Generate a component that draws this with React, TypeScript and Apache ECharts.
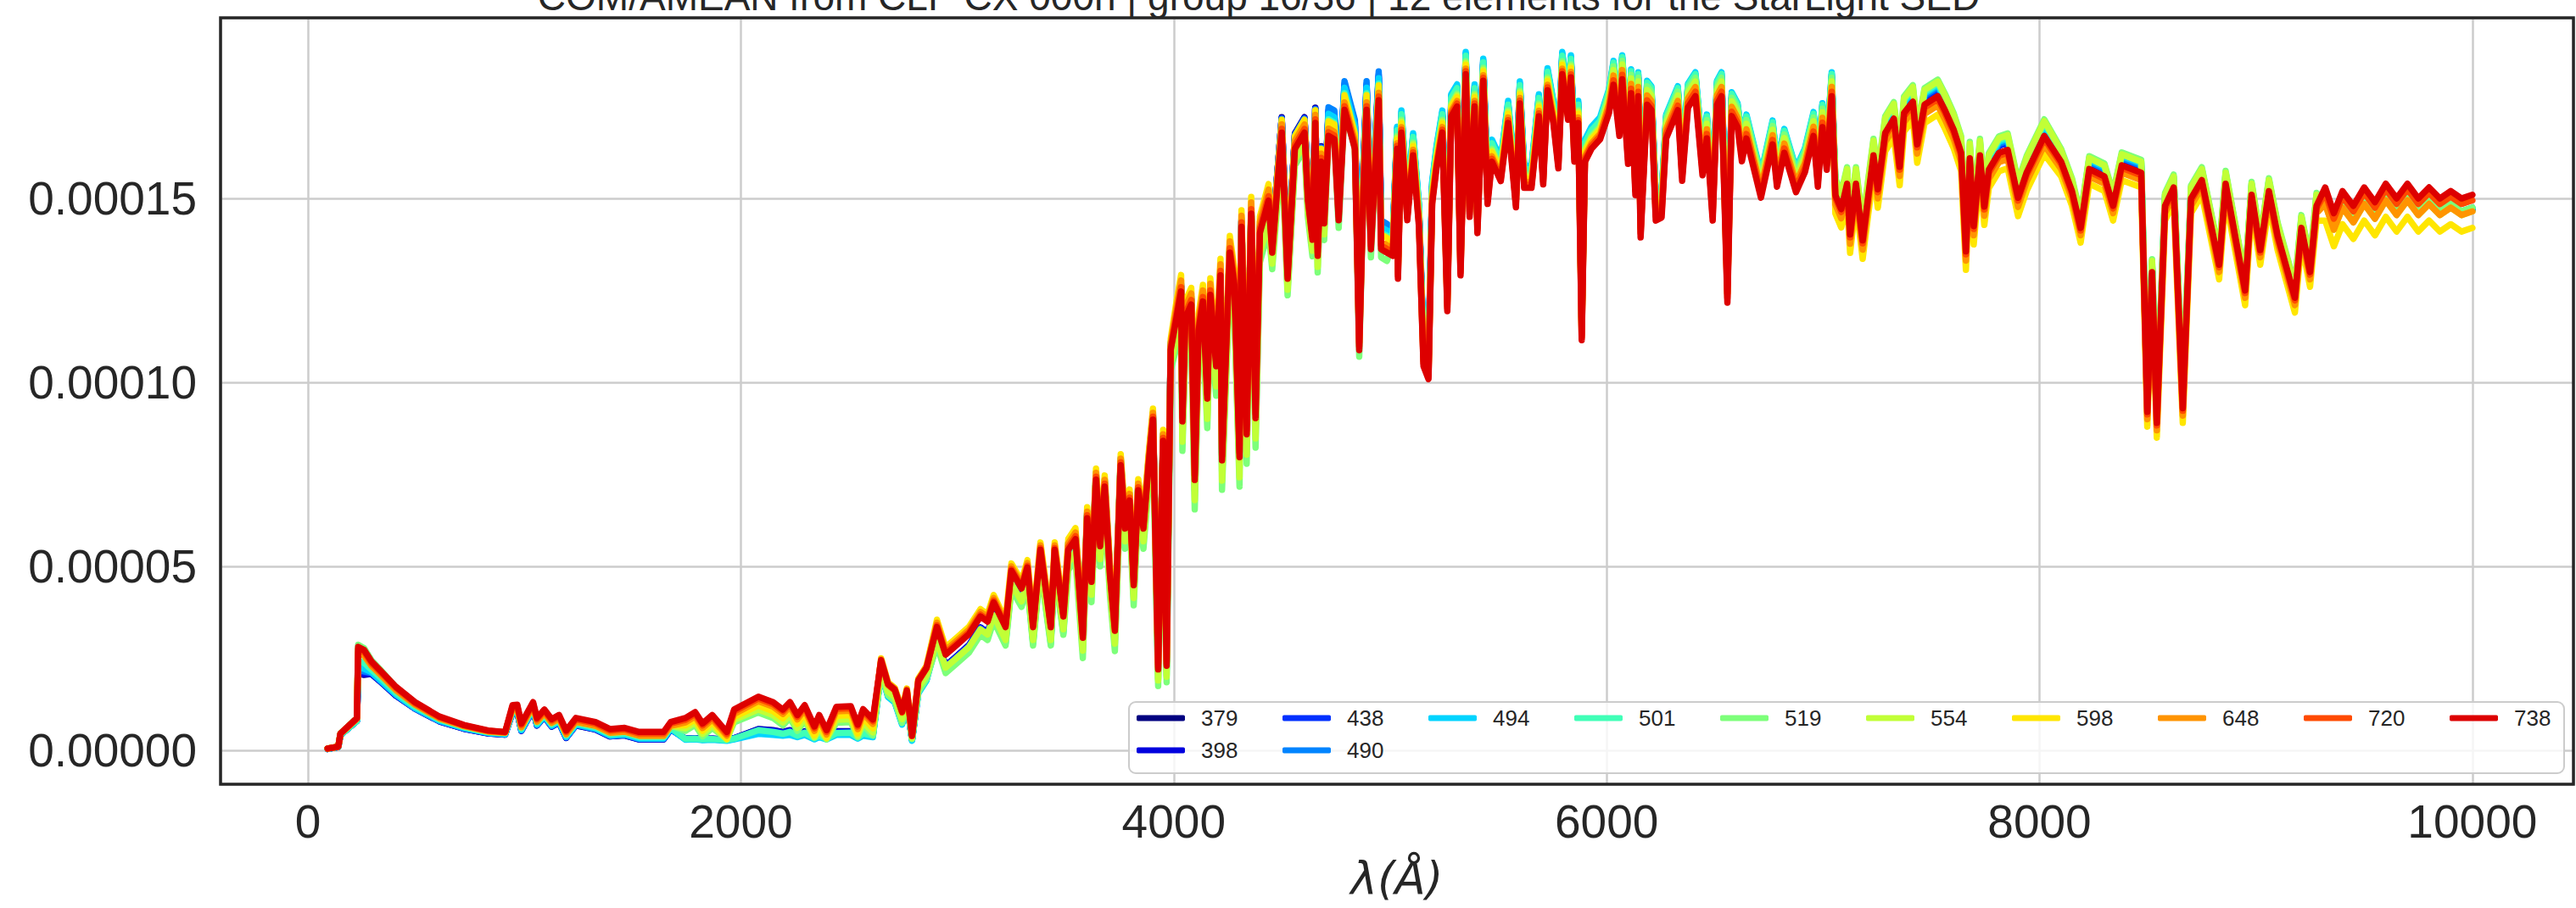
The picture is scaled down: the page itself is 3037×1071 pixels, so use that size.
import React, { useEffect, useRef } from "react";
import * as echarts from "echarts";

const TITLE = "COM/AMEAN from CLP CX 000n | group 16/36 | 12 elements for the StarLight SED";
const X_LABEL = "λ(Å)";
const seriesNames = ["379", "398", "438", "490", "494", "501", "519", "554", "598", "648", "720", "738"];
const seriesColors = ["#000080", "#0000de", "#0030ff", "#0084ff", "#00d4ff", "#40ffb7", "#7dff7a", "#c1ff36", "#ffe600", "#ff9400", "#ff4a00", "#dd0000"];

// wavelength grid (Angstrom)
const wavelength = [
  91, 140, 150, 226,
  232, 259,
  293, 338, 406, 495, 607, 720, 833, 911,
  945, 967, 986, 1040, 1058, 1092, 1126, 1160, 1193, 1238, 1328, 1395, 1463, 1530, 1643, 1676,
  1744, 1789, 1823, 1868, 1935, 1969,
  2081, 2149, 2194, 2227, 2261, 2295, 2340, 2362, 2396, 2441, 2508, 2540, 2565, 2610,
  2648, 2680, 2711, 2745, 2767, 2791, 2820, 2858,
  2906, 2946, 2999, 3054, 3107, 3140, 3168, 3223, 3250, 3297, 3324, 3350, 3384, 3432, 3450, 3490,
  3513, 3546, 3580, 3600, 3620, 3641, 3660, 3681, 3705, 3728, 3755, 3775, 3796, 3815, 3836, 3860, 3884, 3904, 3928, 3951, 3967, 3986,
  4013, 4034, 4040, 4054, 4081, 4097, 4115, 4135, 4155, 4169, 4196, 4216, 4223, 4259, 4280, 4304, 4313, 4337, 4358, 4378, 4398, 4438,
  4455, 4499, 4526, 4560, 4604, 4620, 4641, 4654, 4665, 4681, 4695,
  4715, 4742, 4762, 4789, 4837, 4857, 4877, 4891, 4911, 4947, 4958, 4985,
  5012, 5032, 5036, 5052, 5079, 5106, 5133, 5154, 5177, 5194, 5214, 5241, 5264, 5282, 5309, 5325, 5349, 5367, 5390, 5403, 5430, 5450, 5470, 5511, 5545, 5581, 5599, 5619, 5653, 5687, 5707, 5727, 5754, 5777, 5795, 5822, 5835, 5851, 5869, 5885, 5900, 5930, 5970,
  6011, 6032, 6059, 6072, 6099, 6113, 6133, 6146, 6157, 6187, 6207, 6227, 6254, 6275, 6329, 6349, 6376, 6410, 6443, 6463, 6490, 6510, 6531, 6558, 6578, 6605, 6625, 6646, 6713, 6767, 6787, 6821, 6875, 6916, 6956, 6976, 6997, 7017, 7040,
  7057, 7084, 7111, 7125, 7152, 7183, 7206, 7233, 7253, 7287, 7327, 7354, 7374, 7415, 7435, 7469, 7530, 7563, 7604, 7638, 7660, 7678, 7696, 7725, 7745, 7766, 7813, 7853, 7901, 7941, 8022,
  8100, 8150, 8190, 8230, 8300, 8340, 8380, 8470, 8498, 8520, 8542, 8580, 8620, 8662, 8700, 8750, 8830, 8860, 8950, 8980, 9020, 9060, 9100, 9180, 9210, 9250, 9280,
  9320, 9360, 9400, 9450, 9500, 9550, 9600, 9650, 9700, 9750, 9800, 9850, 9900, 9950, 10000,
];

// flux values in units of 1e-5
const s379 = [
  0.04, 0.09, 0.42, 0.80,
  2.10, 2.05,
  2.08, 1.85, 1.49, 1.13, 0.79, 0.59, 0.46, 0.43,
  1.03, 1.04, 0.53, 1.11, 0.68, 0.91, 0.65, 0.76, 0.34, 0.68, 0.57, 0.38, 0.41, 0.30, 0.30, 0.57,
  0.32, 0.33, 0.31, 0.32, 0.29, 0.33,
  0.58, 0.55, 0.50, 0.55, 0.45, 0.52, 0.38, 0.45, 0.36, 0.52, 0.52, 0.40, 0.50, 0.44,
  2.15, 1.50, 1.35, 0.75, 1.33, 0.30, 1.60, 1.95,
  3.05, 2.30, 2.57, 2.86, 3.34, 3.20, 3.72, 3.05, 4.58, 4.10, 4.67, 3.05, 5.15, 3.05, 5.15, 3.34,
  5.55, 5.84, 3.16, 6.41, 4.68, 7.46, 5.65, 7.27, 4.88, 3.35, 7.85, 6.13, 6.89, 4.59, 7.17, 6.13, 7.85, 9.09, 2.30, 8.51, 2.40, 10.98,
  11.91, 12.62, 9.09, 11.91, 12.27, 7.50, 11.56, 12.35, 9.71, 12.53, 10.59, 13.06, 8.03, 13.68, 12.80, 8.12, 14.38, 8.74, 14.74, 9.18, 14.21, 15.09,
  13.95, 17.21, 13.24, 16.77, 17.21, 15.36, 14.30, 17.47, 13.86, 16.42, 14.74,
  17.30, 17.21, 15.01, 18.01, 16.95, 11.48, 15.89, 18.01, 14.22, 18.27, 14.22, 14.13,
  13.89, 16.80, 13.27, 17.24, 14.86, 16.62, 14.68, 10.89, 10.54, 15.30, 16.27, 17.24, 12.39, 17.68, 17.95, 13.36, 18.83, 14.95, 17.95, 14.51, 18.65, 15.30, 16.45, 15.92, 17.50, 15.21, 18.03, 15.74, 15.74, 17.68, 15.83, 18.39, 17.50, 16.27, 18.83, 17.59, 18.74, 16.45, 17.50, 11.60, 16.45, 16.80, 17.06,
  17.82, 18.59, 17.20, 18.74, 16.44, 18.36, 15.59, 18.28, 14.44, 18.05, 17.90, 14.90, 14.98, 17.13, 17.90, 15.98, 17.97, 18.28, 16.13, 17.13, 14.90, 18.05, 18.28, 12.67, 17.74, 17.44, 16.51, 17.13, 15.52, 16.97, 15.82, 16.74, 15.67, 16.21, 17.20, 15.82, 17.44, 16.28, 18.28,
  15.29, 14.91, 15.60, 14.22, 15.60, 14.06, 15.14, 16.37, 15.45, 16.98, 17.37, 16.06, 17.52, 17.83, 16.67, 17.75, 17.98, 17.60, 17.06, 16.44, 13.76, 16.29, 14.45, 16.37, 14.98, 15.98, 16.44, 16.52, 15.22, 15.91, 16.90,
  16.1, 15.3, 14.3, 15.9, 15.7, 14.9, 16.0, 15.8, 9.3, 13.1, 9.0, 14.9, 15.4, 9.4, 15.1, 15.6, 13.3, 15.5, 12.6, 15.2, 13.7, 15.3, 14.1, 12.4, 14.3, 13.1, 14.9,
  14.9, 14.2, 14.8, 14.4, 14.9, 14.5, 15.0, 14.6, 15.0, 14.6, 14.9, 14.6, 14.8, 14.6, 14.7,
];

const s398 = [
  0.04, 0.09, 0.42, 0.80,
  2.12, 2.07,
  2.08, 1.85, 1.49, 1.13, 0.79, 0.59, 0.46, 0.43,
  1.03, 1.04, 0.53, 1.11, 0.68, 0.91, 0.65, 0.76, 0.34, 0.68, 0.57, 0.38, 0.41, 0.30, 0.30, 0.57,
  0.32, 0.33, 0.31, 0.32, 0.29, 0.33,
  0.57, 0.54, 0.49, 0.54, 0.44, 0.51, 0.37, 0.44, 0.35, 0.51, 0.51, 0.39, 0.49, 0.43,
  2.15, 1.50, 1.35, 0.75, 1.33, 0.30, 1.60, 1.95,
  3.05, 2.30, 2.57, 2.86, 3.34, 3.20, 3.72, 3.05, 4.58, 4.10, 4.67, 3.05, 5.15, 3.05, 5.15, 3.34,
  5.55, 5.84, 3.16, 6.41, 4.68, 7.46, 5.65, 7.27, 4.88, 3.35, 7.85, 6.13, 6.89, 4.59, 7.17, 6.13, 7.85, 9.09, 2.30, 8.51, 2.40, 10.98,
  11.91, 12.62, 9.09, 11.91, 12.27, 7.50, 11.56, 12.35, 9.71, 12.53, 10.59, 13.06, 8.03, 13.68, 12.80, 8.12, 14.38, 8.74, 14.74, 9.18, 14.21, 15.09,
  13.93, 17.19, 13.22, 16.75, 17.19, 15.34, 14.28, 17.45, 13.84, 16.40, 14.72,
  17.35, 17.26, 15.06, 18.06, 17.00, 11.53, 15.94, 18.06, 14.27, 18.32, 14.27, 14.18,
  13.89, 16.80, 13.27, 17.24, 14.86, 16.62, 14.68, 10.89, 10.54, 15.30, 16.27, 17.24, 12.39, 17.68, 17.95, 13.36, 18.83, 14.95, 17.95, 14.51, 18.65, 15.30, 16.45, 15.92, 17.50, 15.21, 18.03, 15.74, 15.74, 17.68, 15.83, 18.39, 17.50, 16.27, 18.83, 17.59, 18.74, 16.45, 17.50, 11.60, 16.45, 16.80, 17.06,
  17.82, 18.59, 17.20, 18.74, 16.44, 18.36, 15.59, 18.28, 14.44, 18.05, 17.90, 14.90, 14.98, 17.13, 17.90, 15.98, 17.97, 18.28, 16.13, 17.13, 14.90, 18.05, 18.28, 12.67, 17.74, 17.44, 16.51, 17.13, 15.52, 16.97, 15.82, 16.74, 15.67, 16.21, 17.20, 15.82, 17.44, 16.28, 18.28,
  15.29, 14.91, 15.60, 14.22, 15.60, 14.06, 15.14, 16.37, 15.45, 16.98, 17.37, 16.06, 17.52, 17.83, 16.67, 17.75, 17.98, 17.60, 17.06, 16.44, 13.76, 16.29, 14.45, 16.37, 14.98, 15.98, 16.44, 16.52, 15.22, 15.91, 16.90,
  16.1, 15.3, 14.3, 15.9, 15.7, 14.9, 16.0, 15.8, 9.3, 13.1, 9.0, 14.9, 15.4, 9.4, 15.1, 15.6, 13.3, 15.5, 12.6, 15.2, 13.7, 15.3, 14.1, 12.4, 14.3, 13.1, 14.9,
  14.9, 14.2, 14.8, 14.4, 14.9, 14.5, 15.0, 14.6, 15.0, 14.6, 14.9, 14.6, 14.8, 14.6, 14.7,
];

const s438 = [
  0.04, 0.09, 0.42, 0.80,
  2.18, 2.12,
  2.11, 1.87, 1.51, 1.14, 0.80, 0.60, 0.47, 0.44,
  1.04, 1.05, 0.54, 1.12, 0.69, 0.92, 0.66, 0.77, 0.35, 0.69, 0.58, 0.39, 0.42, 0.31, 0.31, 0.58,
  0.31, 0.32, 0.30, 0.31, 0.28, 0.32,
  0.55, 0.52, 0.47, 0.52, 0.43, 0.49, 0.36, 0.43, 0.34, 0.49, 0.49, 0.38, 0.47, 0.42,
  2.14, 1.49, 1.34, 0.74, 1.32, 0.29, 1.59, 1.94,
  3.03, 2.28, 2.55, 2.84, 3.32, 3.18, 3.70, 3.03, 4.56, 4.08, 4.65, 3.03, 5.13, 3.03, 5.13, 3.32,
  5.60, 5.89, 3.21, 6.46, 4.73, 7.51, 5.70, 7.32, 4.93, 3.40, 7.90, 6.18, 6.94, 4.64, 7.22, 6.18, 7.90, 9.14, 2.35, 8.56, 2.45, 11.03,
  11.94, 12.65, 9.12, 11.94, 12.30, 7.53, 11.59, 12.38, 9.74, 12.56, 10.62, 13.09, 8.06, 13.71, 12.83, 8.15, 14.41, 8.77, 14.77, 9.21, 14.24, 15.12,
  13.91, 17.17, 13.20, 16.73, 17.17, 15.32, 14.26, 17.43, 13.82, 16.38, 14.70,
  17.40, 17.31, 15.11, 18.11, 17.05, 11.58, 15.99, 18.11, 14.32, 18.37, 14.32, 14.23,
  13.94, 16.85, 13.32, 17.29, 14.91, 16.67, 14.73, 10.94, 10.59, 15.35, 16.32, 17.29, 12.44, 17.73, 18.00, 13.41, 18.88, 15.00, 18.00, 14.56, 18.70, 15.35, 16.50, 15.97, 17.55, 15.26, 18.08, 15.79, 15.79, 17.73, 15.88, 18.44, 17.55, 16.32, 18.88, 17.64, 18.79, 16.50, 17.55, 11.65, 16.50, 16.85, 17.11,
  17.87, 18.64, 17.25, 18.79, 16.49, 18.41, 15.64, 18.33, 14.49, 18.10, 17.95, 14.95, 15.03, 17.18, 17.95, 16.03, 18.02, 18.33, 16.18, 17.18, 14.95, 18.10, 18.33, 12.72, 17.79, 17.49, 16.56, 17.18, 15.57, 17.02, 15.87, 16.79, 15.72, 16.26, 17.25, 15.87, 17.49, 16.33, 18.33,
  15.29, 14.91, 15.60, 14.22, 15.60, 14.06, 15.14, 16.37, 15.45, 16.98, 17.37, 16.06, 17.52, 17.83, 16.67, 17.75, 17.98, 17.60, 17.06, 16.44, 13.76, 16.29, 14.45, 16.37, 14.98, 15.98, 16.44, 16.52, 15.22, 15.91, 16.90,
  16.15, 15.35, 14.35, 15.95, 15.75, 14.95, 16.05, 15.85, 9.35, 13.15, 9.05, 14.95, 15.45, 9.45, 15.15, 15.65, 13.35, 15.55, 12.65, 15.25, 13.75, 15.35, 14.15, 12.45, 14.35, 13.15, 14.95,
  14.9, 14.2, 14.8, 14.4, 14.9, 14.5, 15.0, 14.6, 15.0, 14.6, 14.9, 14.6, 14.8, 14.6, 14.7,
];

const s490 = [
  0.04, 0.09, 0.42, 0.80,
  2.22, 2.15,
  2.11, 1.87, 1.51, 1.14, 0.80, 0.60, 0.47, 0.44,
  1.05, 1.06, 0.55, 1.13, 0.70, 0.93, 0.67, 0.78, 0.36, 0.70, 0.59, 0.40, 0.43, 0.32, 0.32, 0.59,
  0.30, 0.31, 0.29, 0.30, 0.27, 0.31,
  0.52, 0.49, 0.45, 0.49, 0.41, 0.47, 0.35, 0.41, 0.33, 0.47, 0.47, 0.37, 0.45, 0.40,
  2.13, 1.48, 1.33, 0.73, 1.31, 0.28, 1.58, 1.93,
  3.00, 2.25, 2.52, 2.81, 3.29, 3.15, 3.67, 3.00, 4.53, 4.05, 4.62, 3.00, 5.10, 3.00, 5.10, 3.29,
  5.65, 5.94, 3.26, 6.51, 4.78, 7.56, 5.75, 7.37, 4.98, 3.45, 7.95, 6.23, 6.99, 4.69, 7.27, 6.23, 7.95, 9.19, 2.40, 8.61, 2.50, 11.08,
  11.98, 12.69, 9.16, 11.98, 12.34, 7.57, 11.63, 12.42, 9.78, 12.60, 10.66, 13.13, 8.10, 13.75, 12.87, 8.19, 14.45, 8.81, 14.81, 9.25, 14.28, 15.16,
  13.91, 17.17, 13.20, 16.73, 17.17, 15.32, 14.26, 17.43, 13.82, 16.38, 14.70,
  17.48, 17.39, 15.19, 18.19, 17.13, 11.66, 16.07, 18.19, 14.40, 18.45, 14.40, 14.31,
  13.99, 16.90, 13.37, 17.34, 14.96, 16.72, 14.78, 10.99, 10.64, 15.40, 16.37, 17.34, 12.49, 17.78, 18.05, 13.46, 18.93, 15.05, 18.05, 14.61, 18.75, 15.40, 16.55, 16.02, 17.60, 15.31, 18.13, 15.84, 15.84, 17.78, 15.93, 18.49, 17.60, 16.37, 18.93, 17.69, 18.84, 16.55, 17.60, 11.70, 16.55, 16.90, 17.16,
  17.92, 18.69, 17.30, 18.84, 16.54, 18.46, 15.69, 18.38, 14.54, 18.15, 18.00, 15.00, 15.08, 17.23, 18.00, 16.08, 18.07, 18.38, 16.23, 17.23, 15.00, 18.15, 18.38, 12.77, 17.84, 17.54, 16.61, 17.23, 15.62, 17.07, 15.92, 16.84, 15.77, 16.31, 17.30, 15.92, 17.54, 16.38, 18.38,
  15.34, 14.96, 15.65, 14.27, 15.65, 14.11, 15.19, 16.42, 15.50, 17.03, 17.42, 16.11, 17.57, 17.88, 16.72, 17.80, 18.03, 17.65, 17.11, 16.49, 13.81, 16.34, 14.50, 16.42, 15.03, 16.03, 16.49, 16.57, 15.27, 15.96, 16.95,
  16.2, 15.4, 14.4, 16.0, 15.8, 15.0, 16.1, 15.9, 9.4, 13.2, 9.1, 15.0, 15.5, 9.5, 15.2, 15.7, 13.4, 15.6, 12.7, 15.3, 13.8, 15.4, 14.2, 12.5, 14.4, 13.2, 15.0,
  14.95, 14.25, 14.85, 14.45, 14.95, 14.55, 15.05, 14.65, 15.05, 14.65, 14.95, 14.65, 14.85, 14.65, 14.75,
];

const s494 = [
  0.04, 0.09, 0.42, 0.80,
  2.30, 2.22,
  2.13, 1.89, 1.52, 1.15, 0.81, 0.61, 0.48, 0.44,
  1.05, 1.06, 0.55, 1.13, 0.70, 0.93, 0.67, 0.78, 0.36, 0.70, 0.59, 0.40, 0.43, 0.32, 0.32, 0.59,
  0.29, 0.30, 0.28, 0.29, 0.26, 0.30,
  0.45, 0.42, 0.40, 0.42, 0.36, 0.42, 0.30, 0.36, 0.30, 0.42, 0.42, 0.32, 0.40, 0.36,
  2.10, 1.45, 1.30, 0.70, 1.28, 0.26, 1.55, 1.90,
  2.95, 2.20, 2.47, 2.76, 3.24, 3.10, 3.62, 2.95, 4.48, 4.00, 4.57, 2.95, 5.05, 2.95, 5.05, 3.24,
  5.35, 5.64, 2.96, 6.21, 4.48, 7.26, 5.45, 7.07, 4.68, 3.15, 7.65, 5.93, 6.69, 4.39, 6.97, 5.93, 7.65, 8.89, 2.10, 8.31, 2.20, 10.78,
  11.66, 12.37, 8.84, 11.66, 12.02, 7.25, 11.31, 12.10, 9.46, 12.28, 10.34, 12.81, 7.78, 13.43, 12.55, 7.87, 14.13, 8.49, 14.49, 8.93, 13.96, 14.84,
  13.78, 17.04, 13.07, 16.60, 17.04, 15.19, 14.13, 17.30, 13.69, 16.25, 14.57,
  17.30, 17.21, 15.01, 18.01, 16.95, 11.48, 15.89, 18.01, 14.22, 18.27, 14.22, 14.13,
  14.04, 16.95, 13.42, 17.39, 15.01, 16.77, 14.83, 11.04, 10.69, 15.45, 16.42, 17.39, 12.54, 17.83, 18.10, 13.51, 18.98, 15.10, 18.10, 14.66, 18.80, 15.45, 16.60, 16.07, 17.65, 15.36, 18.18, 15.89, 15.89, 17.83, 15.98, 18.54, 17.65, 16.42, 18.98, 17.74, 18.89, 16.60, 17.65, 11.75, 16.60, 16.95, 17.21,
  17.97, 18.74, 17.35, 18.89, 16.59, 18.51, 15.74, 18.43, 14.59, 18.20, 18.05, 15.05, 15.13, 17.28, 18.05, 16.13, 18.12, 18.43, 16.28, 17.28, 15.05, 18.20, 18.43, 12.82, 17.89, 17.59, 16.66, 17.28, 15.67, 17.12, 15.97, 16.89, 15.82, 16.36, 17.35, 15.97, 17.59, 16.43, 18.43,
  15.39, 15.01, 15.70, 14.32, 15.70, 14.16, 15.24, 16.47, 15.55, 17.08, 17.47, 16.16, 17.62, 17.93, 16.77, 17.85, 18.08, 17.70, 17.16, 16.54, 13.86, 16.39, 14.55, 16.47, 15.08, 16.08, 16.54, 16.62, 15.32, 16.01, 17.00,
  16.25, 15.45, 14.45, 16.05, 15.85, 15.05, 16.15, 15.95, 9.45, 13.25, 9.15, 15.05, 15.55, 9.55, 15.25, 15.75, 13.45, 15.65, 12.75, 15.35, 13.85, 15.45, 14.25, 12.55, 14.45, 13.25, 15.05,
  14.9, 14.2, 14.8, 14.4, 14.9, 14.5, 15.0, 14.6, 15.0, 14.6, 14.9, 14.6, 14.8, 14.6, 14.7,
];

const s501 = [
  0.04, 0.09, 0.42, 0.80,
  2.45, 2.38,
  2.20, 1.96, 1.57, 1.19, 0.84, 0.63, 0.49, 0.46,
  1.09, 1.10, 0.59, 1.17, 0.74, 0.97, 0.71, 0.82, 0.40, 0.74, 0.63, 0.44, 0.47, 0.36, 0.36, 0.63,
  0.31, 0.32, 0.30, 0.31, 0.28, 0.32,
  0.55, 0.50, 0.45, 0.50, 0.40, 0.48, 0.33, 0.40, 0.32, 0.47, 0.48, 0.35, 0.46, 0.40,
  2.15, 1.50, 1.35, 0.75, 1.33, 0.30, 1.60, 1.95,
  2.90, 2.15, 2.42, 2.71, 3.19, 3.05, 3.57, 2.90, 4.43, 3.95, 4.52, 2.90, 5.00, 2.90, 5.00, 3.19,
  5.20, 5.49, 2.81, 6.06, 4.33, 7.11, 5.30, 6.92, 4.53, 3.00, 7.50, 5.78, 6.54, 4.24, 6.82, 5.78, 7.50, 8.74, 1.95, 8.16, 2.05, 10.63,
  11.46, 12.17, 8.64, 11.46, 11.82, 7.05, 11.11, 11.90, 9.26, 12.08, 10.14, 12.61, 7.58, 13.23, 12.35, 7.67, 13.93, 8.29, 14.29, 8.73, 13.76, 14.64,
  13.63, 16.89, 12.92, 16.45, 16.89, 15.04, 13.98, 17.15, 13.54, 16.10, 14.42,
  17.15, 17.06, 14.86, 17.86, 16.80, 11.33, 15.74, 17.86, 14.07, 18.12, 14.07, 13.98,
  13.94, 16.85, 13.32, 17.29, 14.91, 16.67, 14.73, 10.94, 10.59, 15.35, 16.32, 17.29, 12.44, 17.73, 18.00, 13.41, 18.88, 15.00, 18.00, 14.56, 18.70, 15.35, 16.50, 15.97, 17.55, 15.26, 18.08, 15.79, 15.79, 17.73, 15.88, 18.44, 17.55, 16.32, 18.88, 17.64, 18.79, 16.50, 17.55, 11.65, 16.50, 16.85, 17.11,
  17.92, 18.69, 17.30, 18.84, 16.54, 18.46, 15.69, 18.38, 14.54, 18.15, 18.00, 15.00, 15.08, 17.23, 18.00, 16.08, 18.07, 18.38, 16.23, 17.23, 15.00, 18.15, 18.38, 12.77, 17.84, 17.54, 16.61, 17.23, 15.62, 17.07, 15.92, 16.84, 15.77, 16.31, 17.30, 15.92, 17.54, 16.38, 18.38,
  15.44, 15.06, 15.75, 14.37, 15.75, 14.21, 15.29, 16.52, 15.60, 17.13, 17.52, 16.21, 17.67, 17.98, 16.82, 17.90, 18.13, 17.75, 17.21, 16.59, 13.91, 16.44, 14.60, 16.52, 15.13, 16.13, 16.59, 16.67, 15.37, 16.06, 17.05,
  16.3, 15.5, 14.5, 16.1, 15.9, 15.1, 16.2, 16.0, 9.5, 13.3, 9.2, 15.1, 15.6, 9.6, 15.3, 15.8, 13.5, 15.7, 12.8, 15.4, 13.9, 15.5, 14.3, 12.6, 14.5, 13.3, 15.1,
  14.95, 14.25, 14.85, 14.45, 14.95, 14.55, 15.05, 14.65, 15.05, 14.65, 14.95, 14.65, 14.85, 14.65, 14.75,
];

const s519 = [
  0.05, 0.10, 0.46, 0.88,
  2.87, 2.78,
  2.45, 2.17, 1.72, 1.29, 0.90, 0.67, 0.52, 0.48,
  1.13, 1.14, 0.63, 1.21, 0.78, 1.01, 0.75, 0.86, 0.44, 0.78, 0.67, 0.48, 0.51, 0.40, 0.40, 0.67,
  0.53, 0.69, 0.38, 0.61, 0.30, 0.76,
  1.03, 0.88, 0.68, 0.88, 0.53, 0.80, 0.35, 0.53, 0.30, 0.75, 0.77, 0.36, 0.69, 0.41,
  2.12, 1.50, 1.35, 0.75, 1.33, 0.32, 1.60, 1.95,
  2.85, 2.10, 2.37, 2.66, 3.14, 3.00, 3.52, 2.85, 4.38, 3.90, 4.47, 2.85, 4.95, 2.85, 4.95, 3.14,
  4.90, 5.19, 2.51, 5.76, 4.03, 6.81, 5.00, 6.62, 4.23, 2.70, 7.20, 5.48, 6.24, 3.94, 6.52, 5.48, 7.20, 8.44, 1.75, 7.86, 1.85, 10.33,
  10.96, 11.67, 8.14, 10.96, 11.32, 6.55, 10.61, 11.40, 8.76, 11.58, 9.64, 12.11, 7.08, 12.73, 11.85, 7.17, 13.43, 7.79, 13.79, 8.23, 13.26, 14.14,
  13.08, 16.34, 12.37, 15.90, 16.34, 14.49, 13.43, 16.60, 12.99, 15.55, 13.87,
  16.70, 16.61, 14.20, 17.41, 16.35, 10.70, 15.29, 17.41, 13.40, 17.67, 13.40, 13.30,
  13.79, 16.70, 13.17, 17.14, 14.76, 16.52, 14.58, 10.79, 10.44, 15.20, 16.17, 17.14, 12.29, 17.58, 17.85, 13.26, 18.73, 14.85, 17.85, 14.41, 18.55, 15.20, 16.35, 15.82, 17.40, 15.11, 17.93, 15.64, 15.64, 17.58, 15.73, 18.29, 17.40, 16.17, 18.73, 17.49, 18.64, 16.35, 17.40, 11.50, 16.35, 16.70, 16.96,
  17.82, 18.59, 17.20, 18.74, 16.44, 18.36, 15.59, 18.28, 14.44, 18.05, 17.90, 14.90, 14.98, 17.13, 17.90, 15.98, 17.97, 18.28, 16.13, 17.13, 14.90, 18.05, 18.28, 12.67, 17.74, 17.44, 16.51, 17.13, 15.52, 16.97, 15.82, 16.74, 15.67, 16.21, 17.20, 15.82, 17.44, 16.28, 18.28,
  15.54, 15.16, 15.85, 14.47, 15.85, 14.31, 15.39, 16.62, 15.70, 17.23, 17.62, 16.31, 17.77, 18.08, 16.92, 18.00, 18.23, 17.85, 17.31, 16.69, 14.01, 16.54, 14.70, 16.62, 15.23, 16.23, 16.69, 16.77, 15.47, 16.16, 17.15,
  16.35, 15.55, 14.55, 16.15, 15.95, 15.15, 16.25, 16.05, 9.55, 13.35, 9.25, 15.15, 15.65, 9.65, 15.35, 15.85, 13.55, 15.75, 12.85, 15.45, 13.95, 15.55, 14.35, 12.65, 14.55, 13.35, 15.15,
  14.95, 14.25, 14.85, 14.45, 14.95, 14.55, 15.05, 14.65, 15.05, 14.65, 14.95, 14.65, 14.85, 14.65, 14.75,
];

const s554 = [
  0.05, 0.10, 0.46, 0.88,
  2.76, 2.68,
  2.35, 2.09, 1.68, 1.27, 0.89, 0.67, 0.52, 0.49,
  1.13, 1.14, 0.63, 1.21, 0.78, 1.01, 0.75, 0.86, 0.44, 0.78, 0.67, 0.48, 0.51, 0.40, 0.40, 0.67,
  0.60, 0.76, 0.45, 0.68, 0.30, 0.83,
  1.11, 0.96, 0.76, 0.96, 0.61, 0.88, 0.36, 0.61, 0.32, 0.83, 0.85, 0.40, 0.77, 0.49,
  2.25, 1.60, 1.45, 0.85, 1.43, 0.33, 1.70, 2.05,
  3.00, 2.25, 2.52, 2.81, 3.29, 3.15, 3.67, 3.00, 4.53, 4.05, 4.62, 3.00, 5.10, 3.00, 5.10, 3.29,
  5.10, 5.39, 2.71, 5.96, 4.23, 7.01, 5.20, 6.82, 4.43, 2.90, 7.40, 5.68, 6.44, 4.14, 6.72, 5.68, 7.40, 8.64, 1.90, 8.06, 2.00, 10.53,
  11.21, 11.92, 8.39, 11.21, 11.57, 6.80, 10.86, 11.65, 9.01, 11.83, 9.89, 12.36, 7.33, 12.98, 12.10, 7.42, 13.68, 8.04, 14.04, 8.48, 13.51, 14.39,
  13.23, 16.49, 12.52, 16.05, 16.49, 14.64, 13.58, 16.75, 13.14, 15.70, 14.02,
  16.90, 16.81, 14.61, 17.61, 16.55, 11.08, 15.49, 17.61, 13.82, 17.87, 13.82, 13.73,
  13.74, 16.65, 13.12, 17.09, 14.71, 16.47, 14.53, 10.74, 10.39, 15.15, 16.12, 17.09, 12.24, 17.53, 17.80, 13.21, 18.68, 14.80, 17.80, 14.36, 18.50, 15.15, 16.30, 15.77, 17.35, 15.06, 17.88, 15.59, 15.59, 17.53, 15.68, 18.24, 17.35, 16.12, 18.68, 17.44, 18.59, 16.30, 17.35, 11.45, 16.30, 16.65, 16.91,
  17.72, 18.49, 17.10, 18.64, 16.34, 18.26, 15.49, 18.18, 14.34, 17.95, 17.80, 14.80, 14.88, 17.03, 17.80, 15.88, 17.87, 18.18, 16.03, 17.03, 14.80, 17.95, 18.18, 12.57, 17.64, 17.34, 16.41, 17.03, 15.42, 16.87, 15.72, 16.64, 15.57, 16.11, 17.10, 15.72, 17.34, 16.18, 18.18,
  15.49, 15.11, 15.80, 14.42, 15.80, 14.26, 15.34, 16.57, 15.65, 17.18, 17.57, 16.26, 17.72, 18.03, 16.87, 17.95, 18.18, 17.80, 17.26, 16.64, 13.96, 16.49, 14.65, 16.57, 15.18, 16.18, 16.64, 16.72, 15.42, 16.11, 17.10,
  16.3, 15.5, 14.5, 16.1, 15.9, 15.1, 16.2, 16.0, 9.5, 13.3, 9.2, 15.1, 15.6, 9.6, 15.3, 15.8, 13.5, 15.7, 12.8, 15.4, 13.9, 15.5, 14.3, 12.6, 14.5, 13.3, 15.1,
  14.85, 14.15, 14.75, 14.35, 14.85, 14.45, 14.95, 14.55, 14.95, 14.55, 14.85, 14.55, 14.75, 14.55, 14.65,
];

const s598 = [
  0.05, 0.10, 0.45, 0.86,
  2.65, 2.58,
  2.32, 2.06, 1.66, 1.26, 0.88, 0.66, 0.52, 0.48,
  1.15, 1.16, 0.65, 1.23, 0.80, 1.03, 0.77, 0.88, 0.46, 0.80, 0.69, 0.50, 0.53, 0.42, 0.42, 0.69,
  0.68, 0.84, 0.53, 0.76, 0.32, 0.91,
  1.22, 1.07, 0.87, 1.07, 0.72, 0.99, 0.41, 0.72, 0.35, 0.94, 0.96, 0.46, 0.88, 0.60,
  2.50, 1.85, 1.70, 1.10, 1.68, 0.42, 1.95, 2.30,
  3.55, 2.80, 3.07, 3.36, 3.84, 3.70, 4.22, 3.55, 5.08, 4.60, 5.17, 3.55, 5.65, 3.55, 5.65, 3.84,
  5.75, 6.04, 3.36, 6.61, 4.88, 7.66, 5.85, 7.47, 5.08, 3.55, 8.05, 6.33, 7.09, 4.79, 7.37, 6.33, 8.05, 9.29, 2.40, 8.71, 2.50, 11.18,
  12.21, 12.92, 9.39, 12.21, 12.57, 7.80, 11.86, 12.65, 10.01, 12.83, 10.89, 13.36, 8.33, 13.98, 13.10, 8.42, 14.68, 9.04, 15.04, 9.48, 14.51, 15.39,
  13.88, 17.14, 13.17, 16.70, 17.14, 15.29, 14.23, 17.40, 13.79, 16.35, 14.67,
  17.10, 17.01, 14.81, 17.81, 16.75, 11.28, 15.69, 17.81, 14.02, 18.07, 14.02, 13.93,
  13.69, 16.60, 13.07, 17.04, 14.66, 16.42, 14.48, 10.69, 10.34, 15.10, 16.07, 17.04, 12.19, 17.48, 17.75, 13.16, 18.63, 14.75, 17.75, 14.31, 18.45, 15.10, 16.25, 15.72, 17.30, 15.01, 17.83, 15.54, 15.54, 17.48, 15.63, 18.19, 17.30, 16.07, 18.63, 17.39, 18.54, 16.25, 17.30, 11.40, 16.25, 16.60, 16.86,
  17.57, 18.34, 16.95, 18.49, 16.19, 18.11, 15.34, 18.03, 14.19, 17.80, 17.65, 14.65, 14.73, 16.88, 17.65, 15.73, 17.72, 18.03, 15.88, 16.88, 14.65, 17.80, 18.03, 12.42, 17.49, 17.19, 16.26, 16.88, 15.27, 16.72, 15.57, 16.49, 15.42, 15.96, 16.95, 15.57, 17.19, 16.03, 18.03,
  14.59, 14.21, 14.90, 13.52, 14.90, 13.36, 14.44, 15.67, 14.75, 16.28, 16.67, 15.36, 16.82, 17.13, 15.97, 17.05, 17.28, 16.90, 16.36, 15.74, 13.06, 15.59, 13.75, 15.67, 14.28, 15.28, 15.74, 15.82, 14.52, 15.21, 16.20,
  15.6, 14.8, 13.8, 15.4, 15.2, 14.4, 15.5, 15.3, 8.8, 12.6, 8.5, 14.4, 14.9, 8.9, 14.6, 15.1, 12.8, 15.0, 12.1, 14.7, 13.2, 14.8, 13.6, 11.9, 13.8, 12.6, 14.4,
  14.4, 13.7, 14.3, 13.9, 14.4, 14.0, 14.5, 14.1, 14.5, 14.1, 14.4, 14.1, 14.3, 14.1, 14.2,
];

const s648 = [
  0.05, 0.10, 0.45, 0.86,
  2.66, 2.58,
  2.30, 2.04, 1.64, 1.24, 0.87, 0.66, 0.51, 0.48,
  1.13, 1.14, 0.63, 1.21, 0.78, 1.01, 0.75, 0.86, 0.44, 0.78, 0.67, 0.48, 0.51, 0.40, 0.40, 0.67,
  0.76, 0.92, 0.61, 0.84, 0.40, 0.99,
  1.34, 1.19, 0.99, 1.19, 0.84, 1.11, 0.53, 0.84, 0.43, 1.06, 1.08, 0.58, 1.00, 0.72,
  2.48, 1.83, 1.68, 1.08, 1.66, 0.42, 1.93, 2.28,
  3.47, 2.72, 2.99, 3.28, 3.76, 3.62, 4.14, 3.47, 5.00, 4.52, 5.09, 3.47, 5.57, 3.47, 5.57, 3.76,
  5.63, 5.92, 3.24, 6.49, 4.76, 7.54, 5.73, 7.35, 4.96, 3.43, 7.93, 6.21, 6.97, 4.67, 7.25, 6.21, 7.93, 9.17, 2.35, 8.59, 2.45, 11.06,
  12.06, 12.77, 9.24, 12.06, 12.42, 7.65, 11.71, 12.50, 9.86, 12.68, 10.74, 13.21, 8.18, 13.83, 12.95, 8.27, 14.53, 8.89, 14.89, 9.33, 14.36, 15.24,
  13.75, 17.01, 13.04, 16.57, 17.01, 15.16, 14.10, 17.27, 13.66, 16.22, 14.54,
  16.90, 16.81, 14.61, 17.61, 16.55, 11.08, 15.49, 17.61, 13.82, 17.87, 13.82, 13.73,
  13.59, 16.50, 12.97, 16.94, 14.56, 16.32, 14.38, 10.59, 10.24, 15.00, 15.97, 16.94, 12.09, 17.38, 17.65, 13.06, 18.53, 14.65, 17.65, 14.21, 18.35, 15.00, 16.15, 15.62, 17.20, 14.91, 17.73, 15.44, 15.44, 17.38, 15.53, 18.09, 17.20, 15.97, 18.53, 17.29, 18.44, 16.15, 17.20, 11.30, 16.15, 16.50, 16.76,
  17.57, 18.34, 16.95, 18.49, 16.19, 18.11, 15.34, 18.03, 14.19, 17.80, 17.65, 14.65, 14.73, 16.88, 17.65, 15.73, 17.72, 18.03, 15.88, 16.88, 14.65, 17.80, 18.03, 12.42, 17.49, 17.19, 16.26, 16.88, 15.27, 16.72, 15.57, 16.49, 15.42, 15.96, 16.95, 15.57, 17.19, 16.03, 18.03,
  14.84, 14.46, 15.15, 13.77, 15.15, 13.61, 14.69, 15.92, 15.00, 16.53, 16.92, 15.61, 17.07, 17.38, 16.22, 17.30, 17.53, 17.15, 16.61, 15.99, 13.31, 15.84, 14.00, 15.92, 14.53, 15.53, 15.99, 16.07, 14.77, 15.46, 16.45,
  15.8, 15.0, 14.0, 15.6, 15.4, 14.6, 15.7, 15.5, 9.0, 12.8, 8.7, 14.6, 15.1, 9.1, 14.8, 15.3, 13.0, 15.2, 12.3, 14.9, 13.4, 15.0, 13.8, 12.1, 14.0, 12.8, 14.6,
  14.85, 14.15, 14.75, 14.35, 14.85, 14.45, 14.95, 14.55, 14.95, 14.55, 14.85, 14.55, 14.75, 14.55, 14.65,
];

const s720 = [
  0.05, 0.10, 0.45, 0.86,
  2.75, 2.68,
  2.37, 2.11, 1.70, 1.28, 0.90, 0.68, 0.53, 0.49,
  1.19, 1.20, 0.69, 1.27, 0.84, 1.07, 0.81, 0.92, 0.50, 0.84, 0.73, 0.54, 0.57, 0.46, 0.46, 0.73,
  0.83, 0.99, 0.68, 0.91, 0.45, 1.06,
  1.41, 1.26, 1.06, 1.26, 0.91, 1.18, 0.60, 0.91, 0.50, 1.13, 1.15, 0.65, 1.07, 0.79,
  2.43, 1.78, 1.63, 1.03, 1.61, 0.39, 1.88, 2.23,
  3.40, 2.65, 2.92, 3.21, 3.69, 3.55, 4.07, 3.40, 4.93, 4.45, 5.02, 3.40, 5.50, 3.40, 5.50, 3.69,
  5.53, 5.82, 3.14, 6.39, 4.66, 7.44, 5.63, 7.25, 4.86, 3.33, 7.83, 6.11, 6.87, 4.57, 7.15, 6.11, 7.83, 9.07, 2.26, 8.49, 2.36, 10.96,
  11.88, 12.59, 9.06, 11.88, 12.24, 7.47, 11.53, 12.32, 9.68, 12.50, 10.56, 13.03, 8.00, 13.65, 12.77, 8.09, 14.35, 8.71, 14.71, 9.15, 14.18, 15.06,
  13.63, 16.89, 12.92, 16.45, 16.89, 15.04, 13.98, 17.15, 13.54, 16.10, 14.42,
  16.80, 16.71, 14.51, 17.51, 16.45, 10.98, 15.39, 17.51, 13.72, 17.77, 13.72, 13.63,
  13.52, 16.43, 12.90, 16.87, 14.49, 16.25, 14.31, 10.52, 10.17, 14.93, 15.90, 16.87, 12.02, 17.31, 17.58, 12.99, 18.46, 14.58, 17.58, 14.14, 18.28, 14.93, 16.08, 15.55, 17.13, 14.84, 17.66, 15.37, 15.37, 17.31, 15.46, 18.02, 17.13, 15.90, 18.46, 17.22, 18.37, 16.08, 17.13, 11.23, 16.08, 16.43, 16.69,
  17.44, 18.21, 16.82, 18.36, 16.06, 17.98, 15.21, 17.90, 14.06, 17.67, 17.52, 14.52, 14.60, 16.75, 17.52, 15.60, 17.59, 17.90, 15.75, 16.75, 14.52, 17.67, 17.90, 12.29, 17.36, 17.06, 16.13, 16.75, 15.14, 16.59, 15.44, 16.36, 15.29, 15.83, 16.82, 15.44, 17.06, 15.90, 17.90,
  15.01, 14.63, 15.32, 13.94, 15.32, 13.78, 14.86, 16.09, 15.17, 16.70, 17.09, 15.78, 17.24, 17.55, 16.39, 17.47, 17.70, 17.32, 16.78, 16.16, 13.48, 16.01, 14.17, 16.09, 14.70, 15.70, 16.16, 16.24, 14.94, 15.63, 16.62,
  15.93, 15.13, 14.13, 15.73, 15.53, 14.73, 15.83, 15.63, 9.13, 12.93, 8.83, 14.73, 15.23, 9.23, 14.93, 15.43, 13.13, 15.33, 12.43, 15.03, 13.53, 15.13, 13.93, 12.23, 14.13, 12.93, 14.73,
  15.15, 14.45, 15.05, 14.65, 15.15, 14.75, 15.25, 14.85, 15.25, 14.85, 15.15, 14.85, 15.05, 14.85, 14.95,
];

const s738 = [
  0.05, 0.10, 0.46, 0.88,
  2.81, 2.73,
  2.42, 2.15, 1.73, 1.31, 0.92, 0.69, 0.54, 0.50,
  1.23, 1.24, 0.73, 1.31, 0.88, 1.11, 0.85, 0.96, 0.54, 0.88, 0.77, 0.58, 0.61, 0.50, 0.50, 0.77,
  0.88, 1.04, 0.73, 0.96, 0.50, 1.11,
  1.46, 1.31, 1.11, 1.31, 0.96, 1.23, 0.65, 0.96, 0.55, 1.18, 1.20, 0.70, 1.12, 0.84,
  2.45, 1.80, 1.65, 1.05, 1.63, 0.40, 1.90, 2.25,
  3.35, 2.60, 2.87, 3.16, 3.64, 3.50, 4.02, 3.35, 4.88, 4.40, 4.97, 3.35, 5.45, 3.35, 5.45, 3.64,
  5.45, 5.74, 3.06, 6.31, 4.58, 7.36, 5.55, 7.17, 4.78, 3.25, 7.75, 6.03, 6.79, 4.49, 7.07, 6.03, 7.75, 8.99, 2.20, 8.41, 2.30, 10.88,
  11.76, 12.47, 8.94, 11.76, 12.12, 7.35, 11.41, 12.20, 9.56, 12.38, 10.44, 12.91, 7.88, 13.53, 12.65, 7.97, 14.23, 8.59, 14.59, 9.03, 14.06, 14.94,
  13.53, 16.79, 12.82, 16.35, 16.79, 14.94, 13.88, 17.05, 13.44, 16.00, 14.32,
  16.70, 16.61, 14.41, 17.41, 16.35, 10.88, 15.29, 17.41, 13.62, 17.67, 13.62, 13.53,
  13.44, 16.35, 12.82, 16.79, 14.41, 16.17, 14.23, 10.44, 10.09, 14.85, 15.82, 16.79, 11.94, 17.23, 17.50, 12.91, 18.38, 14.50, 17.50, 14.06, 18.20, 14.85, 16.00, 15.47, 17.05, 14.76, 17.58, 15.29, 15.29, 17.23, 15.38, 17.94, 17.05, 15.82, 18.38, 17.14, 18.29, 16.00, 17.05, 11.15, 16.00, 16.35, 16.61,
  17.32, 18.09, 16.70, 18.24, 15.94, 17.86, 15.09, 17.78, 13.94, 17.55, 17.40, 14.40, 14.48, 16.63, 17.40, 15.48, 17.47, 17.78, 15.63, 16.63, 14.40, 17.55, 17.78, 12.17, 17.24, 16.94, 16.01, 16.63, 15.02, 16.47, 15.32, 16.24, 15.17, 15.71, 16.70, 15.32, 16.94, 15.78, 17.78,
  15.09, 14.71, 15.40, 14.02, 15.40, 13.86, 14.94, 16.17, 15.25, 16.78, 17.17, 15.86, 17.32, 17.63, 16.47, 17.55, 17.78, 17.40, 16.86, 16.24, 13.56, 16.09, 14.25, 16.17, 14.78, 15.78, 16.24, 16.32, 15.02, 15.71, 16.70,
  16.0, 15.2, 14.2, 15.8, 15.6, 14.8, 15.9, 15.7, 9.2, 13.0, 8.9, 14.8, 15.3, 9.3, 15.0, 15.5, 13.2, 15.4, 12.5, 15.1, 13.6, 15.2, 14.0, 12.3, 14.2, 13.0, 14.8,
  15.3, 14.6, 15.2, 14.8, 15.3, 14.9, 15.4, 15.0, 15.4, 15.0, 15.3, 15.0, 15.2, 15.0, 15.1,
];

const seriesValues = [s379, s398, s438, s490, s494, s501, s519, s554, s598, s648, s720, s738];
const FLUX_UNIT = 1e-5;

// legend layout (column-major, 10 columns)
const legendColumn = [0, 0, 1, 1, 2, 3, 4, 5, 6, 7, 8, 9];
const legendRow = [0, 1, 0, 1, 0, 0, 0, 0, 0, 0, 0, 0];

const FONT = "'Liberation Sans', Arial, Helvetica, sans-serif";
const TEXT = "#262626";

const W = 3037;
const H = 1071;
const PLOT = { left: 260, top: 21, right: 3034, bottom: 925 };

export default function App() {
  const ref = useRef<HTMLDivElement>(null);

  useEffect(() => {
    document.body.style.margin = "0";
    if (!ref.current) return;
    const chart = echarts.init(ref.current, null, { renderer: "svg" });

    const series = seriesNames.map((name, k) => {
      const vals = seriesValues[k];
      const n = Math.min(vals.length, wavelength.length);
      const data = [];
      for (let i = 0; i < n; i++) data.push([wavelength[i], vals[i] * FLUX_UNIT]);
      return {
        name,
        type: "line",
        data,
        color: seriesColors[k],
        symbol: "none",
        showSymbol: false,
        silent: true,
        lineStyle: { width: 7.5, color: seriesColors[k], cap: "round", join: "round" },
        z: 2,
      };
    });

    const legends = seriesNames.map((name, k) => ({
      data: [name],
      left: 1340 + 172 * legendColumn[k],
      top: (legendRow[k] === 0 ? 849 : 887) - 15,
      orient: "horizontal",
      padding: 0,
      itemWidth: 57,
      itemHeight: 7,
      icon: "roundRect",
      selectedMode: false,
      z: 200,
      textStyle: { fontSize: 26, color: TEXT, fontFamily: FONT, padding: [0, 0, 0, 14] },
    }));

    chart.setOption({
      animation: false,
      backgroundColor: "#ffffff",
      grid: {
        left: PLOT.left,
        top: PLOT.top,
        right: W - PLOT.right,
        bottom: H - PLOT.bottom,
        containLabel: false,
      },
      xAxis: {
        type: "value",
        min: -404,
        max: 10467,
        splitNumber: 5,
        axisLine: { show: false },
        axisTick: { show: false },
        axisLabel: {
          fontSize: 55,
          color: TEXT,
          fontFamily: FONT,
          margin: 16,
          showMinLabel: false,
          showMaxLabel: false,
          formatter: (v: number) => String(Math.round(v)),
        },
        splitLine: { show: true, lineStyle: { color: "#cccccc", width: 2.5 } },
        name: X_LABEL,
        nameLocation: "middle",
        nameGap: 85,
        nameTextStyle: { fontSize: 53, fontStyle: "italic", color: TEXT, fontFamily: "'DejaVu Sans', sans-serif" },
      },
      yAxis: {
        type: "value",
        min: -0.0000092,
        max: 0.0001991,
        splitNumber: 5,
        axisLine: { show: false },
        axisTick: { show: false },
        axisLabel: {
          fontSize: 55,
          color: TEXT,
          fontFamily: FONT,
          margin: 28,
          showMinLabel: false,
          showMaxLabel: false,
          formatter: (v: number) => v.toFixed(5),
        },
        splitLine: { show: true, lineStyle: { color: "#cccccc", width: 2.5 } },
      },
      legend: legends,
      graphic: [
        {
          type: "text",
          x: 1484,
          y: 19,
          z: 300,
          style: {
            text: TITLE,
            fontSize: 46,
            fontFamily: FONT,
            fill: TEXT,
            align: "center",
            verticalAlign: "bottom",
          },
        },
        {
          type: "rect",
          z: 100,
          shape: { x: 1331, y: 828, width: 1692, height: 84, r: 8 },
          style: { fill: "rgba(255,255,255,0.8)", stroke: "#cccccc", lineWidth: 2 },
        },
        {
          type: "rect",
          z: 150,
          silent: true,
          shape: { x: PLOT.left, y: PLOT.top, width: PLOT.right - PLOT.left, height: PLOT.bottom - PLOT.top },
          style: { fill: "none", stroke: "#262626", lineWidth: 3.5 },
        },
      ],
      series,
    });

    return () => chart.dispose();
  }, []);

  return <div ref={ref} style={{ width: W, height: H }} />;
}
